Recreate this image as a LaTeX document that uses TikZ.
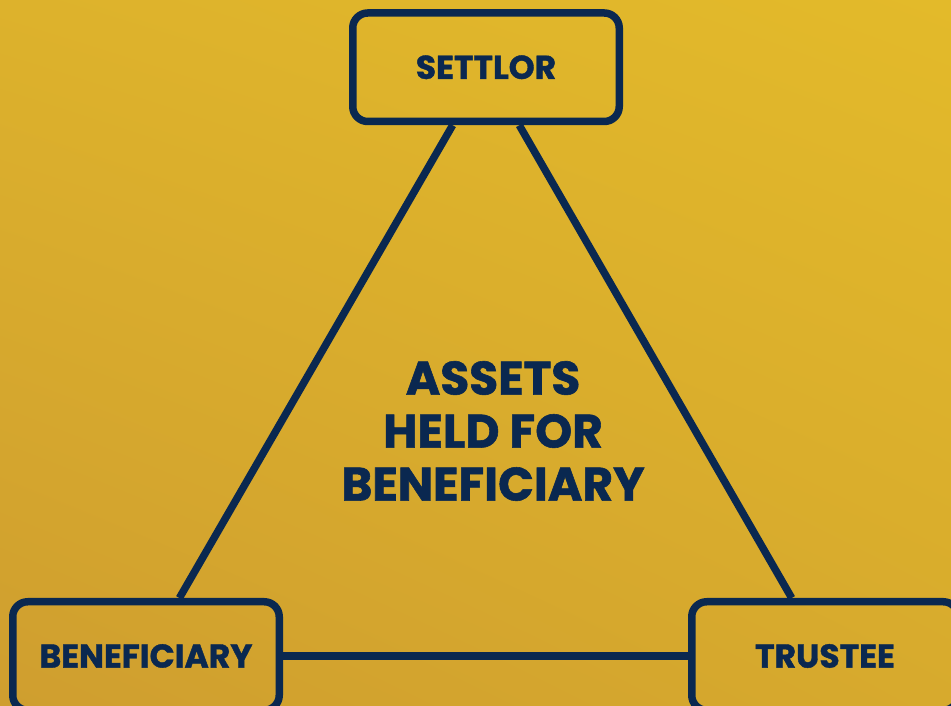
\documentclass[tikz,border=0pt]{standalone}
\usepackage{fontspec}
\usetikzlibrary{shadings}
\setmainfont{Poppins}[BoldFeatures={FakeBold=1.2}]
\definecolor{navy}{HTML}{0A2850}
\definecolor{goldTL}{HTML}{DDB22C}
\definecolor{goldTR}{HTML}{E3BA2A}
\definecolor{goldBL}{HTML}{CF9E2F}
\definecolor{goldBR}{HTML}{D7AA2D}
\begin{document}
\begin{tikzpicture}[x=1pt,y=1pt,
  box/.style={draw=navy,line width=7.5pt,rounded corners=15pt,minimum width=266.5pt,minimum height=108.5pt,inner sep=0pt,text=navy,font=\fontsize{33}{33}\selectfont\bfseries},
  link/.style={draw=navy,line width=7.5pt}]
\shade[upper left=goldTL,upper right=goldTR,lower left=goldBL,lower right=goldBR] (0,0) rectangle (951,706);
\useasboundingbox (0,0) rectangle (951,706);
\node[box] (settlor) at (486,638.75) {SETTLOR};
\node[box] (benef) at (146,50) {BENEFICIARY};
\node[box] (trustee) at (825,50) {TRUSTEE};
\draw[link] (settlor) -- (benef);
\draw[link] (settlor) -- (trustee);
\draw[link] (benef) -- (trustee);
\node[text=navy,align=center,font=\fontsize{47}{53}\selectfont\bfseries] (assets) at (493,275) {ASSETS\\HELD FOR\\BENEFICIARY};
\end{tikzpicture}
\end{document}
